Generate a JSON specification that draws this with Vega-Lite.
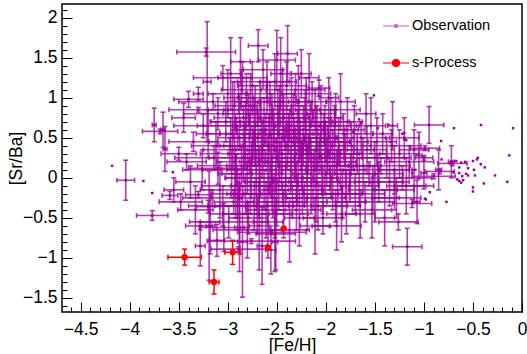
{
"$schema":"https://vega.github.io/schema/vega-lite/v6.json",
"width":460,"height":308,"autosize":"none",
"padding":{"left":62,"top":4,"right":5,"bottom":42},
"background":"white",
"config":{"view":{"stroke":"#000000","strokeWidth":1.5},"font":"Liberation Sans",
"axis":{"grid":false,"domain":false,"ticks":true,"tickOpacity":1,"zindex":2,"tickColor":"#000000","tickWidth":1,"labelColor":"#000000","titleColor":"#000000","labelFont":"Liberation Sans","titleFont":"Liberation Sans","labelFontSize":17.5,"titleFontSize":17.5,"titleFontWeight":"normal","labelFlush":false,"labelOverlap":false,"labelBound":false}},
"datasets":{
"obs":[
{"x":-4.04,"y":-0.03,"ex":0.09,"ey":0.25},{"x":-3.75,"y":0.66,"ex":0.02,"ey":0.21},{"x":-3.69,"y":0.58,"ex":0.18,"ey":0.03},{"x":-3.66,"y":0.6,"ex":0.02,"ey":0.22},{"x":-3.64,"y":0.36,"ex":0.02,"ey":0.28},{"x":-3.77,"y":-0.47,"ex":0.16,"ey":0.06},{"x":-3.3,"y":-0.21,"ex":0.13,"ey":0.04},{"x":-3.28,"y":-0.6,"ex":0.15,"ey":0.05},{"x":-3.2,"y":-0.36,"ex":0.12,"ey":0.08},{"x":-3.3,"y":0.85,"ex":0.3,"ey":0.03},{"x":-3.3,"y":1.05,"ex":0.05,"ey":0.08},{"x":-3.59,"y":-0.22,"ex":0.08,"ey":0.05},
{"x":-3.22,"y":1.57,"ex":0.3,"ey":0.05},{"x":-3.21,"y":1.2,"ex":0.04,"ey":0.75},{"x":-3.15,"y":0.95,"ex":0.35,"ey":0.1},{"x":-3.12,"y":0.4,"ex":0.25,"ey":0.3},{"x":-3.1,"y":0.12,"ex":0.3,"ey":0.2},{"x":-3.08,"y":-0.15,"ex":0.2,"ey":0.35},{"x":-3.05,"y":-0.35,"ex":0.35,"ey":0.25},{"x":-3.02,"y":0.7,"ex":0.15,"ey":0.25},{"x":-3.18,"y":-0.55,"ex":0.1,"ey":0.4},{"x":-3.14,"y":0.25,"ex":0.4,"ey":0.15},{"x":-3.0,"y":1.05,"ex":0.2,"ey":0.3},{"x":-3.04,"y":-0.62,"ex":0.25,"ey":0.3},{"x":-3.11,"y":-0.78,"ex":0.08,"ey":0.2},{"x":-3.2,"y":0.55,"ex":0.12,"ey":0.3},{"x":-3.16,"y":-0.25,"ex":0.3,"ey":0.1},{"x":-3.26,"y":0.1,"ex":0.2,"ey":0.25},{"x":-3.35,"y":0.45,"ex":0.25,"ey":0.12},{"x":-3.38,"y":-0.05,"ex":0.15,"ey":0.2},{"x":-3.42,"y":0.2,"ex":0.2,"ey":0.1},{"x":-3.45,"y":0.75,"ex":0.12,"ey":0.18},{"x":-3.5,"y":0.3,"ex":0.18,"ey":0.08},{"x":-3.33,"y":-0.4,"ex":0.18,"ey":0.3},{"x":-3.28,"y":-0.85,"ex":0.05,"ey":0.25},{"x":-3.4,"y":0.98,"ex":0.15,"ey":0.1},{"x":-3.55,"y":-0.15,"ex":0.1,"ey":0.15},{"x":-3.48,"y":-0.3,"ex":0.22,"ey":0.1},{"x":-3.19,"y":-0.6,"ex":0.03,"ey":0.68},
{"x":-2.98,"y":0.3,"ex":0.3,"ey":0.2},{"x":-2.95,"y":0.85,"ex":0.25,"ey":0.35},{"x":-2.92,"y":-0.1,"ex":0.35,"ey":0.4},{"x":-2.9,"y":0.5,"ex":0.2,"ey":0.15},{"x":-2.88,"y":-0.45,"ex":0.3,"ey":0.5},{"x":-2.86,"y":0.15,"ex":0.45,"ey":0.25},{"x":-2.85,"y":-0.8,"ex":0.05,"ey":0.69},{"x":-2.97,"y":1.3,"ex":0.1,"ey":0.45},{"x":-2.94,"y":-0.3,"ex":0.2,"ey":0.15},{"x":-2.91,"y":0.65,"ex":0.4,"ey":0.1},{"x":-2.89,"y":1.0,"ex":0.15,"ey":0.2},{"x":-2.83,"y":0.4,"ex":0.25,"ey":0.3},{"x":-2.82,"y":-0.2,"ex":0.15,"ey":0.25},{"x":-2.99,"y":-0.55,"ex":0.4,"ey":0.2},{"x":-2.96,"y":0.05,"ex":0.1,"ey":0.3},{"x":-2.87,"y":1.45,"ex":0.1,"ey":0.3},{"x":-2.84,"y":0.75,"ex":0.3,"ey":0.15},{"x":-2.93,"y":0.2,"ex":0.18,"ey":0.45},{"x":-2.81,"y":0.95,"ex":0.12,"ey":0.35},{"x":-2.8,"y":-0.65,"ex":0.35,"ey":0.35},{"x":-2.76,"y":-0.79,"ex":0.45,"ey":0.03},{"x":-2.89,"y":-0.89,"ex":0.28,"ey":0.03},{"x":-2.55,"y":-0.68,"ex":0.35,"ey":0.03},{"x":-2.88,"y":-0.62,"ex":0.05,"ey":0.55},
{"x":-2.78,"y":0.55,"ex":0.3,"ey":0.25},{"x":-2.76,"y":0.1,"ex":0.25,"ey":0.35},{"x":-2.75,"y":1.15,"ex":0.15,"ey":0.3},{"x":-2.73,"y":-0.35,"ex":0.4,"ey":0.3},{"x":-2.72,"y":0.35,"ex":0.2,"ey":0.2},{"x":-2.7,"y":0.8,"ex":0.35,"ey":0.15},{"x":-2.68,"y":-0.05,"ex":0.15,"ey":0.45},{"x":-2.66,"y":0.6,"ex":0.25,"ey":0.4},{"x":-2.65,"y":-0.85,"ex":0.05,"ey":0.48},{"x":-2.64,"y":1.35,"ex":0.2,"ey":0.25},{"x":-2.62,"y":0.25,"ex":0.3,"ey":0.1},{"x":-2.79,"y":-0.5,"ex":0.2,"ey":0.2},{"x":-2.77,"y":0.9,"ex":0.1,"ey":0.4},{"x":-2.74,"y":0.45,"ex":0.45,"ey":0.15},{"x":-2.71,"y":-0.2,"ex":0.3,"ey":0.2},{"x":-2.69,"y":1.65,"ex":0.1,"ey":0.2},{"x":-2.67,"y":0.0,"ex":0.35,"ey":0.25},{"x":-2.63,"y":0.7,"ex":0.15,"ey":0.3},{"x":-2.61,"y":-0.4,"ex":0.2,"ey":0.35},{"x":-2.6,"y":1.0,"ex":0.3,"ey":0.2},{"x":-2.78,"y":0.2,"ex":0.1,"ey":0.15},{"x":-2.72,"y":0.65,"ex":0.2,"ey":0.5},{"x":-2.68,"y":-0.6,"ex":0.1,"ey":0.55},{"x":-2.64,"y":0.4,"ex":0.4,"ey":0.3},
{"x":-2.58,"y":0.5,"ex":0.3,"ey":0.3},{"x":-2.56,"y":0.15,"ex":0.25,"ey":0.4},{"x":-2.55,"y":0.85,"ex":0.2,"ey":0.2},{"x":-2.54,"y":-0.25,"ex":0.35,"ey":0.25},{"x":-2.52,"y":1.2,"ex":0.15,"ey":0.35},{"x":-2.5,"y":1.47,"ex":0.19,"ey":0.37},{"x":-2.5,"y":0.35,"ex":0.3,"ey":0.15},{"x":-2.48,"y":-0.1,"ex":0.2,"ey":0.3},{"x":-2.47,"y":0.65,"ex":0.4,"ey":0.25},{"x":-2.45,"y":0.05,"ex":0.3,"ey":0.2},{"x":-2.44,"y":0.95,"ex":0.15,"ey":0.4},{"x":-2.43,"y":-0.45,"ex":0.25,"ey":0.3},{"x":-2.42,"y":0.45,"ex":0.2,"ey":0.1},{"x":-2.41,"y":0.25,"ex":0.35,"ey":0.35},{"x":-2.59,"y":-0.55,"ex":0.15,"ey":0.45},{"x":-2.57,"y":1.05,"ex":0.25,"ey":0.15},{"x":-2.53,"y":0.6,"ex":0.1,"ey":0.2},{"x":-2.51,"y":-0.7,"ex":0.2,"ey":0.45},{"x":-2.49,"y":0.8,"ex":0.3,"ey":0.3},{"x":-2.46,"y":1.3,"ex":0.1,"ey":0.45},{"x":-2.44,"y":-0.2,"ex":0.4,"ey":0.15},{"x":-2.4,"y":0.7,"ex":0.25,"ey":0.2},{"x":-2.58,"y":0.0,"ex":0.45,"ey":0.2},{"x":-2.55,"y":0.4,"ex":0.3,"ey":0.45},{"x":-2.47,"y":0.2,"ex":0.15,"ey":0.25},{"x":-2.52,"y":-0.35,"ex":0.3,"ey":0.4},{"x":-2.52,"y":-0.8,"ex":0.03,"ey":0.37},{"x":-2.56,"y":-0.9,"ex":0.05,"ey":0.3},
{"x":-2.38,"y":0.55,"ex":0.3,"ey":0.25},{"x":-2.36,"y":0.1,"ex":0.25,"ey":0.3},{"x":-2.35,"y":0.9,"ex":0.2,"ey":0.35},{"x":-2.34,"y":-0.3,"ex":0.35,"ey":0.2},{"x":-2.32,"y":0.35,"ex":0.15,"ey":0.4},{"x":-2.31,"y":1.1,"ex":0.3,"ey":0.2},{"x":-2.3,"y":-0.05,"ex":0.2,"ey":0.25},{"x":-2.29,"y":0.7,"ex":0.35,"ey":0.15},{"x":-2.28,"y":0.2,"ex":0.4,"ey":0.3},{"x":-2.27,"y":-0.5,"ex":0.15,"ey":0.35},{"x":-2.26,"y":0.45,"ex":0.25,"ey":0.2},{"x":-2.25,"y":1.3,"ex":0.1,"ey":0.3},{"x":-2.24,"y":0.0,"ex":0.3,"ey":0.45},{"x":-2.23,"y":0.6,"ex":0.2,"ey":0.3},{"x":-2.22,"y":-0.2,"ex":0.35,"ey":0.15},{"x":-2.21,"y":0.85,"ex":0.15,"ey":0.25},{"x":-2.39,"y":1.55,"ex":0.1,"ey":0.35},{"x":-2.37,"y":-0.65,"ex":0.2,"ey":0.4},{"x":-2.33,"y":0.5,"ex":0.45,"ey":0.1},{"x":-2.28,"y":0.95,"ex":0.1,"ey":0.45},{"x":-2.25,"y":0.25,"ex":0.3,"ey":0.15},{"x":-2.2,"y":0.4,"ex":0.25,"ey":0.35},
{"x":-2.18,"y":0.3,"ex":0.3,"ey":0.25},{"x":-2.16,"y":0.65,"ex":0.25,"ey":0.3},{"x":-2.15,"y":-0.1,"ex":0.2,"ey":0.35},{"x":-2.14,"y":0.95,"ex":0.15,"ey":0.25},{"x":-2.12,"y":0.15,"ex":0.35,"ey":0.2},{"x":-2.1,"y":0.5,"ex":0.2,"ey":0.4},{"x":-2.08,"y":-0.35,"ex":0.3,"ey":0.3},{"x":-2.07,"y":1.12,"ex":0.11,"ey":0.1},{"x":-2.06,"y":0.4,"ex":0.25,"ey":0.15},{"x":-2.05,"y":0.8,"ex":0.15,"ey":0.35},{"x":-2.04,"y":0.05,"ex":0.3,"ey":0.25},{"x":-2.03,"y":-0.5,"ex":0.2,"ey":0.2},{"x":-2.02,"y":0.6,"ex":0.35,"ey":0.2},{"x":-2.01,"y":0.25,"ex":0.1,"ey":0.45},{"x":-2.19,"y":-0.25,"ex":0.25,"ey":0.4},{"x":-2.17,"y":1.25,"ex":0.1,"ey":0.3},{"x":-2.13,"y":0.75,"ex":0.3,"ey":0.1},{"x":-2.11,"y":-0.6,"ex":0.15,"ey":0.35},{"x":-2.09,"y":0.2,"ex":0.4,"ey":0.3},{"x":-2.0,"y":0.45,"ex":0.25,"ey":0.25},
{"x":-1.98,"y":0.35,"ex":0.3,"ey":0.3},{"x":-1.96,"y":0.1,"ex":0.25,"ey":0.25},{"x":-1.95,"y":0.65,"ex":0.2,"ey":0.35},{"x":-1.93,"y":-0.2,"ex":0.3,"ey":0.2},{"x":-1.91,"y":0.45,"ex":0.15,"ey":0.4},{"x":-1.9,"y":0.85,"ex":0.25,"ey":0.2},{"x":-1.88,"y":0.0,"ex":0.35,"ey":0.3},{"x":-1.86,"y":0.3,"ex":0.2,"ey":0.15},{"x":-1.84,"y":-0.45,"ex":0.15,"ey":0.35},{"x":-1.82,"y":0.55,"ex":0.3,"ey":0.25},{"x":-1.8,"y":0.15,"ex":0.25,"ey":0.4},{"x":-1.78,"y":0.7,"ex":0.15,"ey":0.3},{"x":-1.76,"y":-0.1,"ex":0.3,"ey":0.2},{"x":-1.74,"y":0.4,"ex":0.2,"ey":0.3},{"x":-1.72,"y":0.25,"ex":0.35,"ey":0.15},{"x":-1.97,"y":1.0,"ex":0.1,"ey":0.25},{"x":-1.89,"y":-0.6,"ex":0.25,"ey":0.3},{"x":-1.85,"y":0.95,"ex":0.15,"ey":0.35},{"x":-1.79,"y":-0.3,"ex":0.2,"ey":0.4},{"x":-1.75,"y":0.05,"ex":0.25,"ey":0.25},{"x":-1.71,"y":0.6,"ex":0.1,"ey":0.3},
{"x":-1.68,"y":0.3,"ex":0.3,"ey":0.25},{"x":-1.66,"y":-0.05,"ex":0.2,"ey":0.3},{"x":-1.64,"y":0.5,"ex":0.25,"ey":0.2},{"x":-1.62,"y":0.15,"ex":0.15,"ey":0.35},{"x":-1.6,"y":-0.3,"ex":0.3,"ey":0.25},{"x":-1.58,"y":0.35,"ex":0.2,"ey":0.3},{"x":-1.56,"y":0.05,"ex":0.35,"ey":0.15},{"x":-1.54,"y":0.65,"ex":0.15,"ey":0.35},{"x":-1.52,"y":-0.15,"ex":0.25,"ey":0.3},{"x":-1.5,"y":0.25,"ex":0.3,"ey":0.2},{"x":-1.48,"y":0.45,"ex":0.2,"ey":0.3},{"x":-1.46,"y":-0.05,"ex":0.25,"ey":0.25},{"x":-1.44,"y":0.15,"ex":0.3,"ey":0.1},{"x":-1.42,"y":0.55,"ex":0.1,"ey":0.25},{"x":-1.65,"y":-0.45,"ex":0.15,"ey":0.3},{"x":-1.59,"y":0.8,"ex":0.1,"ey":0.25},{"x":-1.53,"y":-0.4,"ex":0.2,"ey":0.35},{"x":-1.47,"y":0.1,"ex":0.35,"ey":0.2},
{"x":-1.38,"y":0.25,"ex":0.25,"ey":0.25},{"x":-1.35,"y":-0.05,"ex":0.2,"ey":0.3},{"x":-1.33,"y":0.4,"ex":0.3,"ey":0.2},{"x":-1.3,"y":0.1,"ex":0.15,"ey":0.3},{"x":-1.28,"y":-0.25,"ex":0.25,"ey":0.25},{"x":-1.25,"y":0.3,"ex":0.2,"ey":0.3},{"x":-1.22,"y":0.0,"ex":0.3,"ey":0.15},{"x":-1.2,"y":0.5,"ex":0.15,"ey":0.25},{"x":-1.18,"y":-0.1,"ex":0.2,"ey":0.35},{"x":-1.15,"y":0.2,"ex":0.25,"ey":0.2},{"x":-1.12,"y":-0.32,"ex":0.2,"ey":0.05},{"x":-1.1,"y":0.35,"ex":0.15,"ey":0.25},{"x":-1.07,"y":-0.3,"ex":0.03,"ey":0.27},{"x":-1.05,"y":0.28,"ex":0.03,"ey":0.29},{"x":-1.0,"y":0.06,"ex":0.03,"ey":0.2},{"x":-0.99,"y":0.37,"ex":0.15,"ey":0.03},{"x":-1.0,"y":0.25,"ex":0.09,"ey":0.03},{"x":-0.947,"y":0.66,"ex":0.15,"ey":0.23},{"x":-1.17,"y":-0.86,"ex":0.15,"ey":0.23},{"x":-0.9,"y":0.02,"ex":0.22,"ey":0.03},{"x":-0.85,"y":0.1,"ex":0.03,"ey":0.25},{"x":-0.84,"y":0.08,"ex":0.15,"ey":0.03},{"x":-0.72,"y":0.2,"ex":0.03,"ey":0.2},{"x":-0.71,"y":0.18,"ex":0.15,"ey":0.03},{"x":-1.4,"y":-0.5,"ex":0.1,"ey":0.35},{"x":-1.32,"y":0.65,"ex":0.05,"ey":0.3},{"x":-1.26,"y":-0.55,"ex":0.2,"ey":0.1},
{"x":-2.97,"y":0.55,"ex":0.25,"ey":0.2},{"x":-2.95,"y":0.35,"ex":0.3,"ey":0.25},{"x":-2.93,"y":0.9,"ex":0.2,"ey":0.3},{"x":-2.91,"y":0.1,"ex":0.35,"ey":0.2},{"x":-2.9,"y":-0.2,"ex":0.25,"ey":0.3},{"x":-2.88,"y":0.7,"ex":0.3,"ey":0.35},{"x":-2.86,"y":1.1,"ex":0.2,"ey":0.25},{"x":-2.84,"y":0.25,"ex":0.35,"ey":0.3},{"x":-2.82,"y":0.55,"ex":0.2,"ey":0.4},{"x":-2.8,"y":0.05,"ex":0.3,"ey":0.25},{"x":-2.79,"y":0.85,"ex":0.25,"ey":0.2},{"x":-2.77,"y":-0.1,"ex":0.2,"ey":0.35},{"x":-2.75,"y":0.4,"ex":0.35,"ey":0.25},{"x":-2.73,"y":0.7,"ex":0.2,"ey":0.3},{"x":-2.71,"y":0.15,"ex":0.3,"ey":0.2},{"x":-2.69,"y":0.5,"ex":0.25,"ey":0.35},{"x":-2.67,"y":0.95,"ex":0.2,"ey":0.25},{"x":-2.65,"y":0.3,"ex":0.35,"ey":0.3},{"x":-2.63,"y":-0.15,"ex":0.25,"ey":0.25},{"x":-2.61,"y":0.6,"ex":0.3,"ey":0.2},{"x":-2.59,"y":0.2,"ex":0.2,"ey":0.35},{"x":-2.57,"y":0.75,"ex":0.35,"ey":0.25},{"x":-2.55,"y":-0.05,"ex":0.25,"ey":0.3},{"x":-2.53,"y":0.45,"ex":0.3,"ey":0.2},{"x":-2.51,"y":0.1,"ex":0.2,"ey":0.3},{"x":-2.49,"y":0.55,"ex":0.35,"ey":0.35},{"x":-2.47,"y":0.95,"ex":0.2,"ey":0.2},{"x":-2.45,"y":0.3,"ex":0.3,"ey":0.25},{"x":-2.43,"y":0.75,"ex":0.25,"ey":0.3},{"x":-2.41,"y":-0.1,"ex":0.3,"ey":0.25},{"x":-2.39,"y":0.4,"ex":0.2,"ey":0.3},{"x":-2.37,"y":0.65,"ex":0.35,"ey":0.2},{"x":-2.35,"y":0.2,"ex":0.25,"ey":0.35},{"x":-2.33,"y":0.8,"ex":0.2,"ey":0.25},{"x":-2.31,"y":0.3,"ex":0.3,"ey":0.3},{"x":-2.29,"y":-0.15,"ex":0.25,"ey":0.2},{"x":-2.27,"y":0.55,"ex":0.3,"ey":0.35},{"x":-2.25,"y":0.1,"ex":0.2,"ey":0.25},{"x":-2.23,"y":0.35,"ex":0.35,"ey":0.2},{"x":-2.21,"y":0.7,"ex":0.25,"ey":0.3},{"x":-2.19,"y":0.15,"ex":0.3,"ey":0.25},{"x":-2.17,"y":0.5,"ex":0.2,"ey":0.3},{"x":-2.15,"y":0.3,"ex":0.3,"ey":0.2},{"x":-2.13,"y":-0.05,"ex":0.25,"ey":0.35},{"x":-2.11,"y":0.85,"ex":0.2,"ey":0.25},{"x":-2.09,"y":0.6,"ex":0.3,"ey":0.3},{"x":-2.07,"y":0.25,"ex":0.25,"ey":0.2},{"x":-2.05,"y":0.45,"ex":0.3,"ey":0.25},{"x":-2.03,"y":-0.15,"ex":0.2,"ey":0.3},{"x":-2.01,"y":0.7,"ex":0.25,"ey":0.2},{"x":-1.99,"y":0.2,"ex":0.3,"ey":0.3},{"x":-1.97,"y":0.5,"ex":0.25,"ey":0.25},{"x":-1.95,"y":-0.05,"ex":0.2,"ey":0.2},{"x":-1.93,"y":0.3,"ex":0.3,"ey":0.3},{"x":-1.91,"y":0.65,"ex":0.25,"ey":0.25},{"x":-1.89,"y":0.15,"ex":0.2,"ey":0.2},{"x":-1.87,"y":0.45,"ex":0.3,"ey":0.3},{"x":-1.85,"y":0.1,"ex":0.25,"ey":0.25},{"x":-1.83,"y":-0.2,"ex":0.2,"ey":0.3},{"x":-1.81,"y":0.35,"ex":0.3,"ey":0.2},
{"x":-2.9,"y":-0.35,"ex":0.3,"ey":0.3},{"x":-2.7,"y":-0.45,"ex":0.35,"ey":0.25},{"x":-2.5,"y":-0.3,"ex":0.3,"ey":0.3},{"x":-2.3,"y":-0.4,"ex":0.25,"ey":0.25},{"x":-2.1,"y":-0.25,"ex":0.3,"ey":0.3},{"x":-1.9,"y":-0.35,"ex":0.25,"ey":0.2},{"x":-1.7,"y":-0.2,"ex":0.3,"ey":0.25},{"x":-1.5,"y":-0.25,"ex":0.25,"ey":0.3},{"x":-1.3,"y":-0.15,"ex":0.2,"ey":0.25},{"x":-1.1,"y":-0.1,"ex":0.2,"ey":0.2},
{"x":-3.05,"y":1.25,"ex":0.3,"ey":0.15},{"x":-2.85,"y":1.25,"ex":0.25,"ey":0.2},{"x":-2.6,"y":1.2,"ex":0.3,"ey":0.25},{"x":-2.4,"y":1.15,"ex":0.2,"ey":0.3},{"x":-2.2,"y":1.05,"ex":0.25,"ey":0.2},{"x":-3.1,"y":0.8,"ex":0.35,"ey":0.2},{"x":-3.25,"y":0.65,"ex":0.3,"ey":0.15}
],
"dots":[
{"x":-4.18,"y":0.15},{"x":-3.86,"y":-0.04},{"x":-3.77,"y":-0.19},{"x":-3.56,"y":0.07},{"x":-1.51,"y":1.03},{"x":-1.47,"y":0.62},{"x":-1.36,"y":0.66},{"x":-1.22,"y":0.55},{"x":-1.2,"y":0.56},{"x":-1.2,"y":0.48},{"x":-1.18,"y":0.47},{"x":-0.825,"y":0.46},{"x":-0.693,"y":0.62},{"x":-0.418,"y":0.66},{"x":-0.091,"y":0.62},{"x":-0.13,"y":0.28},{"x":-0.5,"y":0.21},{"x":-0.46,"y":0.23},{"x":-0.45,"y":0.25},{"x":-0.42,"y":0.17},{"x":-0.38,"y":0.13},{"x":-0.49,"y":0.1},{"x":-0.55,"y":0.12},{"x":-0.64,"y":0.13},{"x":-0.64,"y":0.06},{"x":-0.61,"y":0.02},{"x":-0.57,"y":0.05},{"x":-0.55,"y":0.03},{"x":-0.48,"y":0.03},{"x":-0.39,"y":-0.07},{"x":-0.275,"y":0.03},{"x":-0.66,"y":-0.02},{"x":-0.64,"y":-0.04},{"x":-0.62,"y":-0.06},{"x":-0.6,"y":-0.03},{"x":-0.5,"y":-0.12},{"x":-0.5,"y":-0.17},{"x":-0.15,"y":-0.05},{"x":-0.94,"y":-0.18},{"x":-0.77,"y":-0.3},{"x":-0.99,"y":-0.26},{"x":-0.7,"y":0.07},{"x":-0.73,"y":0.18},{"x":-0.82,"y":0.23},{"x":-1.09,"y":0.1},{"x":-1.12,"y":0.06},{"x":-0.58,"y":0.2},{"x":-0.62,"y":0.19},{"x":-0.67,"y":0.21},{"x":-1.96,"y":-0.61},{"x":-1.72,"y":0.57},{"x":-1.66,"y":0.73},{"x":-1.64,"y":0.68},{"x":-1.34,"y":0.45},{"x":-0.98,"y":-0.27}
],
"sp":[
{"x":-3.44,"y":-0.99,"ex":0.17,"ey":0.1},{"x":-2.95,"y":-0.93,"ex":0.08,"ey":0.15},{"x":-3.14,"y":-1.3,"ex":0.05,"ey":0.15},{"x":-2.59,"y":-0.87,"ex":0,"ey":0},{"x":-2.43,"y":-0.63,"ex":0,"ey":0}
]
},
"resolve":{"axis":{"x":"independent","y":"independent"}},
"layer":[
{"data":{"name":"obs"},"mark":{"type":"errorbar","ticks":true,"color":"#990099","opacity":0.75,"thickness":1.6,"size":5},
 "encoding":{"x":{"field":"x","type":"quantitative","scale":{"domain":[-4.69,0],"nice":false,"zero":false},"axis":null},"xError":{"field":"ex"},"y":{"field":"y","type":"quantitative","scale":{"domain":[-1.675,2.17],"nice":false,"zero":false},"axis":null}}},
{"data":{"name":"obs"},"mark":{"type":"errorbar","ticks":true,"color":"#990099","opacity":0.75,"thickness":1.6,"size":5},
 "encoding":{"y":{"field":"y","type":"quantitative","scale":{"domain":[-1.675,2.17],"nice":false,"zero":false},"axis":null},"yError":{"field":"ey"},"x":{"field":"x","type":"quantitative","scale":{"domain":[-4.69,0],"nice":false,"zero":false},"axis":null}}},
{"data":{"name":"obs"},"mark":{"type":"square","size":6,"color":"#990099","opacity":1},
 "encoding":{"x":{"field":"x","type":"quantitative","scale":{"domain":[-4.69,0],"nice":false,"zero":false},
   "axis":{"orient":"bottom","values":[-4.5,-4,-3.5,-3,-2.5,-2,-1.5,-1,-0.5,0],"format":"~g","ticks":true,"offset":-10,"tickSize":10,"tickColor":"#000000","tickWidth":1,"labelPadding":8,"title":"[Fe/H]","titleY":48.5,"titleBaseline":"alphabetic"}},
  "y":{"field":"y","type":"quantitative","scale":{"domain":[-1.675,2.17],"nice":false,"zero":false},
   "axis":{"orient":"left","values":[-1.5,-1,-0.5,0,0.5,1,1.5,2],"format":"~g","ticks":true,"offset":-10,"tickSize":10,"tickColor":"#000000","tickWidth":1,"labelPadding":5,"title":"[Sr/Ba]","titleX":-51,"titleBaseline":"alphabetic"}}}},
{"data":{"name":"dots"},"mark":{"type":"square","size":6,"color":"#990099","opacity":1},
 "encoding":{"x":{"field":"x","type":"quantitative","scale":{"domain":[-4.69,0],"nice":false,"zero":false},
   "axis":{"orient":"bottom","values":[-4.6,-4.4,-4.3,-4.2,-4.1,-3.9,-3.8,-3.7,-3.6,-3.4,-3.3,-3.2,-3.1,-2.9,-2.8,-2.7,-2.6,-2.4,-2.3,-2.2,-2.1,-1.9,-1.8,-1.7,-1.6,-1.4,-1.3,-1.2,-1.1,-0.9,-0.8,-0.7,-0.6,-0.4,-0.3,-0.2,-0.1],"ticks":true,"offset":-5,"tickSize":5,"tickColor":"#000000","tickWidth":1,"labels":false,"title":null}},
  "y":{"field":"y","type":"quantitative","scale":{"domain":[-1.675,2.17],"nice":false,"zero":false},
   "axis":{"orient":"left","values":[-1.6,-1.4,-1.3,-1.2,-1.1,-0.9,-0.8,-0.7,-0.6,-0.4,-0.3,-0.2,-0.1,0.1,0.2,0.3,0.4,0.6,0.7,0.8,0.9,1.1,1.2,1.3,1.4,1.6,1.7,1.8,1.9,2.1],"ticks":true,"offset":-5,"tickSize":5,"tickColor":"#000000","tickWidth":1,"labels":false,"title":null}}}},
{"data":{"name":"sp"},"mark":{"type":"errorbar","ticks":true,"color":"#ff0000","opacity":1,"thickness":1.5,"size":5},
 "encoding":{"x":{"field":"x","type":"quantitative","scale":{"domain":[-4.69,0],"nice":false,"zero":false},"axis":null},"xError":{"field":"ex"},"y":{"field":"y","type":"quantitative","scale":{"domain":[-1.675,2.17],"nice":false,"zero":false},"axis":null}}},
{"data":{"name":"sp"},"mark":{"type":"errorbar","ticks":true,"color":"#ff0000","opacity":1,"thickness":1.5,"size":5},
 "encoding":{"y":{"field":"y","type":"quantitative","scale":{"domain":[-1.675,2.17],"nice":false,"zero":false},"axis":null},"yError":{"field":"ey"},"x":{"field":"x","type":"quantitative","scale":{"domain":[-4.69,0],"nice":false,"zero":false},"axis":null}}},
{"data":{"name":"sp"},"mark":{"type":"circle","size":40,"color":"#ff0000","opacity":1},
 "encoding":{"x":{"field":"x","type":"quantitative","scale":{"domain":[-4.69,0],"nice":false,"zero":false},"axis":null},"y":{"field":"y","type":"quantitative","scale":{"domain":[-1.675,2.17],"nice":false,"zero":false},"axis":null}}},
{"data":{"name":"sp"},"mark":{"type":"point","opacity":0,"filled":true},
 "encoding":{"x":{"field":"x","type":"quantitative","scale":{"domain":[-4.69,0],"nice":false,"zero":false},"axis":null},"y":{"field":"y","type":"quantitative","scale":{"domain":[-1.675,2.17],"nice":false,"zero":false},"axis":null},
  "fill":{"datum":"Observation","type":"nominal","scale":{"domain":["Observation","s-Process"],"range":["#990099","#ff0000"]},
   "legend":{"title":null,"orient":"none","legendX":320,"legendY":8,"padding":0,"symbolSize":676,"symbolOpacity":1,"symbolStrokeWidth":1.2,"rowPadding":16,"labelOffset":2,"labelFont":"Liberation Sans","labelFontSize":14.5,"labelColor":"#000000","labelBaseline":"middle"}},
  "stroke":{"datum":"Observation","type":"nominal","scale":{"domain":["Observation","s-Process"],"range":["#c466c4","#ff0000"]},"legend":{"title":null}},
  "shape":{"datum":"Observation","type":"nominal","scale":{"domain":["Observation","s-Process"],"range":["M-1,0H1M-0.09,-0.09H0.09V0.09H-0.09Z","M-1,0H1M-0.27,0A0.27,0.27 0 1,0 0.27,0A0.27,0.27 0 1,0 -0.27,0Z"]},"legend":{"title":null}}}}
]
}
